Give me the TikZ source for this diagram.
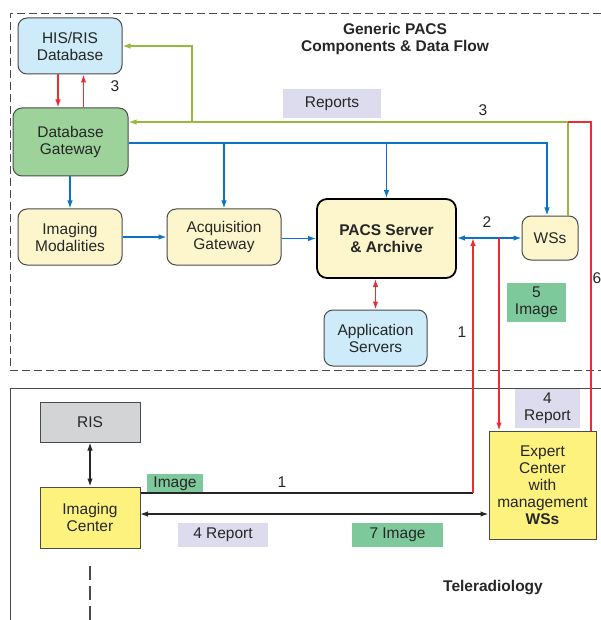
\documentclass[tikz,border=0pt]{standalone}
\usepackage{fontspec}
\setmainfont{Liberation Sans}
\usepackage{xcolor}
\usepackage{tikz}
\usetikzlibrary{arrows.meta}

\definecolor{ink}{HTML}{262626}
\definecolor{edge}{HTML}{4A4A4A}
\definecolor{skyfill}{HTML}{CDEBF9}
\definecolor{gatefill}{HTML}{9DD39A}
\definecolor{creamfill}{HTML}{FDF6CD}
\definecolor{yellowfill}{HTML}{FDF27D}
\definecolor{grayfill}{HTML}{D3D4D5}
\definecolor{lavender}{HTML}{DDDCEE}
\definecolor{mint}{HTML}{7DC99B}
\definecolor{pblue}{HTML}{0A74C4}
\definecolor{pgreen}{HTML}{97B93C}
\definecolor{pred}{HTML}{EE2A35}

\begin{document}
\begin{tikzpicture}[x=1pt, y=-1pt, >={Latex[length=8pt,width=5.5pt]},
    font=\fontsize{15.5}{17}\selectfont, text=ink,
    rbox/.style={draw=edge, line width=1pt, rounded corners=9pt, align=center, inner sep=0pt},
    sbox/.style={draw=edge, line width=1pt, align=center, inner sep=0pt},
    tag/.style={align=center, inner sep=0pt},
    blueline/.style={draw=pblue, line width=1.4pt},
    greenline/.style={draw=pgreen, line width=1.4pt},
    redline/.style={draw=pred, line width=1.4pt},
    darkline/.style={draw=ink, line width=1.4pt}]
        \useasboundingbox (0,0) rectangle (601,620);

        % Frames
        \draw[edge, dash pattern=on 8pt off 4pt] (601,13) -- (10,13) -- (10,370) -- (601,370);
        \draw[edge] (601,388) -- (10,388) -- (10,620);

        % Define the nodes
        \node[rbox, fill=skyfill, minimum width=104, minimum height=56] (hisris) at (70,46) {HIS/RIS\\Database};
        \node[rbox, fill=gatefill, minimum width=115, minimum height=68] (dbgw) at (70.5,142) {Database\\Gateway};
        \node[rbox, fill=creamfill, minimum width=104, minimum height=56] (imgmod) at (70,237) {Imaging\\Modalities};
        \node[rbox, fill=creamfill, minimum width=114, minimum height=56] (acqgw) at (224,237) {Acquisition\\Gateway};
        \node[rbox, fill=creamfill, draw=black, line width=1.8pt, rounded corners=10pt, minimum width=139, minimum height=79, font=\fontsize{15.5}{17}\selectfont\bfseries] (pacs) at (386.5,238.5) {PACS Server\\\& Archive};
        \node[rbox, fill=skyfill, minimum width=103, minimum height=56] (appsrv) at (375.5,338) {Application\\Servers};
        \node[rbox, fill=creamfill, minimum width=56, minimum height=44] (wss) at (550,238) {WSs};
        \node[sbox, fill=grayfill, minimum width=100, minimum height=40] (ris) at (90,422) {RIS};
        \node[sbox, fill=yellowfill, minimum width=100, minimum height=61] (imgctr) at (90,517.5) {Imaging\\Center};
        \node[sbox, fill=yellowfill, minimum width=107, minimum height=108] (expert) at (542.5,485) {Expert\\Center\\with\\management\\\textbf{WSs}};

        % Labels
        \node[tag, fill=lavender, minimum width=98, minimum height=29] (reports) at (332,103.5) {Reports};
        \node[tag, fill=mint, minimum width=59, minimum height=39] (image5) at (536.5,302.5) {5\\Image};
        \node[tag, fill=lavender, minimum width=65, minimum height=39] (report4top) at (547.5,408.5) {4\\Report};
        \node[tag, fill=mint, minimum width=56, minimum height=19] (image1) at (175,483.5) {Image};
        \node[tag, fill=lavender, minimum width=90, minimum height=24] (report4) at (223,535) {4 Report};
        \node[tag, fill=mint, minimum width=91, minimum height=24] (image7) at (397.5,535) {7 Image};
        \node[tag] (title) at (395,39) {\bfseries Generic PACS\\\bfseries Components \& Data Flow};
        \node[tag, font=\fontsize{15.5}{17}\selectfont\bfseries] (telerad) at (493,588) {Teleradiology};
        \node[tag] (n3a) at (115,86) {3};
        \node[tag] (n3b) at (483,110) {3};
        \node[tag] (n2) at (487,222) {2};
        \node[tag] (n1a) at (462,332) {1};
        \node[tag] (n1b) at (282,482) {1};
        \node[tag, anchor=west] (n6) at (592.5,278) {6};

        % Junctions
        \coordinate (gr) at (568,122);
        \coordinate (gb) at (192,122);
        \coordinate (gtop) at (192,46);
        \coordinate (rt) at (591,122);
        \coordinate (bb) at (547,143);
        \coordinate (r1) at (473,493);
        \coordinate (r5) at (499,238);
        \coordinate (lk) at (140,514);

        % Draw the arrows
        \draw[redline, ->] ([xshift=-12]hisris.south) -- ([xshift=-12]hisris.south |- dbgw.north);
        \draw[redline, ->] ([xshift=13]dbgw.north) -- ([xshift=13]dbgw.north |- hisris.south);
        \draw[greenline, ->] (wss.north -| gr) -- (gr) -- (gr -| dbgw.east);
        \draw[greenline, ->] (gb) -- (gtop) -- (hisris.east |- gtop);
        \draw[redline] (gr) -- (rt) -- (rt |- expert.north);
        \draw[blueline, ->] (dbgw.east |- bb) -- (bb) -- (bb |- wss.north);
        \draw[blueline, ->] (acqgw.north |- bb) -- (acqgw.north);
        \draw[blueline, ->] (pacs.north |- bb) -- (pacs.north);
        \draw[blueline, ->] (dbgw.south -| imgmod.north) -- (imgmod.north);
        \draw[blueline, ->] (imgmod) -- (acqgw);
        \draw[blueline, ->] (acqgw.east |- pacs.west) -- (pacs.west);
        \draw[blueline, <->] (pacs.east |- wss.west) -- (wss.west);
        \draw[redline, <->] (appsrv.north |- pacs.south) -- (appsrv.north);
        \draw[darkline] (imgctr.east |- r1) -- (r1);
        \draw[redline, ->] (r1) -- (r1 |- wss.west);
        \draw[redline, ->] (r5) -- (r5 |- expert.north);
        \draw[darkline, <->] (ris) -- (imgctr);
        \draw[darkline, <->] (lk) -- (expert.west |- lk);
        \draw[edge, line width=1.2pt, dash pattern=on 14pt off 6pt] (imgctr.south) ++(0,17) -- (90,620);
\end{tikzpicture}
\end{document}
